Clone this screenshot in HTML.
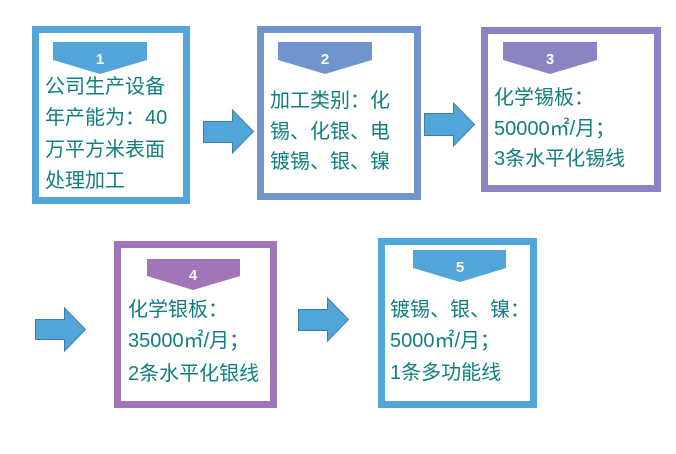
<!DOCTYPE html>
<html><head><meta charset="utf-8"><style>
html,body{margin:0;padding:0;background:#fff;width:676px;height:454px;overflow:hidden}
svg{display:block}
.t{font-family:"Liberation Sans","Noto Sans CJK SC",sans-serif;font-size:20px;fill:#117f80}
.n{font-family:"Liberation Sans",sans-serif;font-size:15px;font-weight:bold;fill:#fff;text-anchor:middle}
.ar{fill:#52a5d8;stroke:#3c7fab;stroke-width:1}
</style></head><body>
<svg width="676" height="454" viewBox="0 0 676 454">
<rect x="35.5" y="29.5" width="151" height="171" fill="#fff" stroke="#52a5d8" stroke-width="7"/>
<polygon points="53,42 147,42 147,60 100,74 53,60" fill="#52a5d8"/>
<text class="n" x="100" y="64">1</text>
<text class="t" x="45" y="93">公司生产设备</text>
<text class="t" x="45" y="124">年产能为：40</text>
<text class="t" x="45" y="156">万平方米表面</text>
<text class="t" x="45" y="187">处理加工</text>
<polygon class="ar" points="203.5,121.5 232.5,121.5 232.5,110 253.5,131.5 232.5,153 232.5,142.5 203.5,142.5"/>
<rect x="260.5" y="29.5" width="157" height="167" fill="#fff" stroke="#6f95cd" stroke-width="7"/>
<polygon points="278,42 372,42 372,60 325,74 278,60" fill="#6f95cd"/>
<text class="n" x="325" y="64">2</text>
<text class="t" x="270" y="107">加工类别：化</text>
<text class="t" x="270" y="138">锡、化银、电</text>
<text class="t" x="270" y="168">镀锡、银、镍</text>
<polygon class="ar" points="424.5,113.5 453.5,113.5 453.5,103 474.5,124.5 453.5,146 453.5,135.5 424.5,135.5"/>
<rect x="484.5" y="30.5" width="173" height="158" fill="#fff" stroke="#8a84c2" stroke-width="7"/>
<polygon points="503,42 597,42 597,60 550,74 503,60" fill="#8a84c2"/>
<text class="n" x="550" y="64">3</text>
<text class="t" x="494" y="104">化学锡板：</text>
<text class="t" x="494" y="135">50000㎡/月；</text>
<text class="t" x="494" y="165">3条水平化锡线</text>
<polygon class="ar" points="35.5,319.5 64.5,319.5 64.5,308 85.5,329.5 64.5,351 64.5,339.5 35.5,339.5"/>
<rect x="117.5" y="244.5" width="156" height="160" fill="#fff" stroke="#a274b8" stroke-width="7"/>
<polygon points="147,259 240,259 240,276 193,290 147,276" fill="#a274b8"/>
<text class="n" x="193" y="280">4</text>
<text class="t" x="128" y="316">化学银板：</text>
<text class="t" x="128" y="347">35000㎡/月；</text>
<text class="t" x="128" y="380">2条水平化银线</text>
<polygon class="ar" points="298.5,309.5 327.5,309.5 327.5,298 348.5,319.5 327.5,341 327.5,330.5 298.5,330.5"/>
<rect x="381.5" y="241.5" width="152" height="163" fill="#fff" stroke="#52a5d8" stroke-width="7"/>
<polygon points="413,250 506,250 506,268 460,282 413,268" fill="#52a5d8"/>
<text class="n" x="460" y="272">5</text>
<text class="t" x="390" y="316">镀锡、银、镍：</text>
<text class="t" x="390" y="347">5000㎡/月；</text>
<text class="t" x="390" y="379">1条多功能线</text>
</svg>
</body></html>
